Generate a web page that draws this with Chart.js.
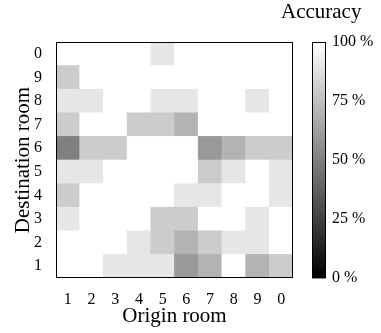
<!DOCTYPE html>
<html>
<head>
<meta charset="utf-8">
<script src="https://cdn.jsdelivr.net/npm/chart.js"></script>
<style>
    body { margin: 0; background: #fff; }
    #wrap { position: relative; width: 381px; height: 333px; }
    canvas { position: absolute; top: 0; }
    #heatmap { left: 0; }
    #colorbar { left: 281px; }
</style>
</head>
<body>
<div id="wrap">
    <canvas id="heatmap" width="300" height="333"></canvas>
    <canvas id="colorbar" width="100" height="333"></canvas>
</div>
<script>
var ORIGIN_ROOMS = ['1', '2', '3', '4', '5', '6', '7', '8', '9', '0'];
// bottom row first
var DESTINATION_ROOMS = ['1', '2', '3', '4', '5', '6', '7', '8', '9', '0'];

// accuracy (%) per destination row, one value per origin room
var ACC_DEST_1 = [100, 100, 90, 90, 90, 60, 70, 100, 70, 80];
var ACC_DEST_2 = [100, 100, 100, 90, 80, 70, 80, 90, 90, 100];
var ACC_DEST_3 = [90, 100, 100, 100, 80, 80, 100, 100, 90, 100];
var ACC_DEST_4 = [80, 100, 100, 100, 100, 90, 90, 100, 100, 90];
var ACC_DEST_5 = [90, 90, 100, 100, 100, 100, 80, 90, 100, 90];
var ACC_DEST_6 = [50, 80, 80, 100, 100, 100, 60, 70, 80, 80];
var ACC_DEST_7 = [80, 100, 100, 80, 80, 70, 100, 100, 100, 100];
var ACC_DEST_8 = [90, 90, 100, 100, 90, 90, 100, 100, 90, 100];
var ACC_DEST_9 = [80, 100, 100, 100, 100, 100, 100, 100, 100, 100];
var ACC_DEST_0 = [100, 100, 100, 100, 90, 100, 100, 100, 100, 100];

var ACCURACY = [ACC_DEST_1, ACC_DEST_2, ACC_DEST_3, ACC_DEST_4, ACC_DEST_5,
    ACC_DEST_6, ACC_DEST_7, ACC_DEST_8, ACC_DEST_9, ACC_DEST_0];

var COLORBAR_MIN = 0,
    COLORBAR_MAX = 100,
    COLORBAR_STEP = 25;

var SERIF = '"Liberation Serif", "Times New Roman", serif';

Chart.defaults.font.family = SERIF;
Chart.defaults.color = '#000';

function gray(pct) {
    var g = Math.round(pct / 100 * 255);
    return 'rgb(' + g + ',' + g + ',' + g + ')';
}

// black box round the plot area
var framePlugin = {
    id: 'frame',
    afterDraw: function (chart) {
        var a = chart.chartArea,
            ctx = chart.ctx,
            x0 = Math.round(a.left) + 0.5,
            y0 = Math.round(a.top) + 0.5,
            x1 = Math.round(a.right) - 0.5,
            y1 = Math.round(a.bottom) - 0.5;
        ctx.save();
        ctx.strokeStyle = '#000';
        ctx.lineWidth = 1;
        ctx.strokeRect(x0, y0, x1 - x0, y1 - y0);
        ctx.restore();
    }
};

var createHeatmap = function () {
    var datasets = DESTINATION_ROOMS.map(function (dest, r) {
        return {
            label: dest,
            data: ORIGIN_ROOMS.map(function () { return [r, r + 1]; }),
            backgroundColor: ACCURACY[r].map(gray),
            borderWidth: 0,
            barPercentage: 1,
            categoryPercentage: 1,
            grouped: false
        };
    });

    return new Chart(document.getElementById('heatmap').getContext('2d'), {
        type: 'bar',
        data: { labels: ORIGIN_ROOMS, datasets: datasets },
        options: {
            responsive: false,
            animation: false,
            devicePixelRatio: 1,
            layout: { padding: { top: 42, right: 7, left: 0, bottom: 0 } },
            plugins: { legend: { display: false }, tooltip: { enabled: false } },
            scales: {
                x: {
                    type: 'category',
                    grid: { display: false },
                    border: { display: false },
                    ticks: { font: { size: 16 }, padding: 4, maxRotation: 0 },
                    title: {
                        display: true,
                        text: 'Origin room',
                        font: { size: 21 },
                        padding: { top: 0, bottom: 4 }
                    },
                    afterFit: function (s) { s.height = 55; }
                },
                y: {
                    type: 'linear',
                    min: 0,
                    max: DESTINATION_ROOMS.length,
                    grid: { display: false },
                    border: { display: false },
                    afterBuildTicks: function (s) {
                        s.ticks = DESTINATION_ROOMS.map(function (d, i) { return { value: i + 0.5 }; });
                    },
                    ticks: {
                        font: { size: 16 },
                        padding: 6,
                        callback: function (v, i) { return DESTINATION_ROOMS[i]; }
                    },
                    title: {
                        display: true,
                        text: 'Destination room',
                        font: { size: 21 },
                        padding: { top: 11, bottom: 0 }
                    },
                    afterFit: function (s) { s.width = 56; }
                }
            }
        },
        plugins: [framePlugin]
    });
};

var createColorbar = function () {
    return new Chart(document.getElementById('colorbar').getContext('2d'), {
        type: 'bar',
        data: {
            labels: ['Accuracy'],
            datasets: [{
                data: [[COLORBAR_MIN, COLORBAR_MAX]],
                backgroundColor: function (ctx) {
                    var area = ctx.chart.chartArea, g;
                    if (!area) {
                        return '#808080';
                    }
                    g = ctx.chart.ctx.createLinearGradient(0, area.bottom, 0, area.top);
                    g.addColorStop(0, '#000');
                    g.addColorStop(1, '#fff');
                    return g;
                },
                borderWidth: 0,
                barPercentage: 1,
                categoryPercentage: 1
            }]
        },
        options: {
            responsive: false,
            animation: false,
            devicePixelRatio: 1,
            layout: { padding: { top: 0, right: 0, left: 0, bottom: 55 } },
            plugins: {
                legend: { display: false },
                tooltip: { enabled: false },
                title: {
                    display: true,
                    text: 'Accuracy',
                    align: 'start',
                    color: '#000',
                    font: { size: 21, weight: 'normal' },
                    padding: { top: 0, bottom: 16.8 }
                }
            },
            scales: {
                x: { display: false },
                pad: {
                    type: 'linear',
                    position: 'left',
                    ticks: { display: false },
                    grid: { display: false },
                    border: { display: false },
                    afterFit: function (s) { s.width = 31; }
                },
                y: {
                    type: 'linear',
                    position: 'right',
                    min: COLORBAR_MIN,
                    max: COLORBAR_MAX,
                    z: 1,
                    grid: { drawTicks: false, color: 'rgba(128,128,128,0.9)' },
                    border: { display: false },
                    ticks: {
                        stepSize: COLORBAR_STEP,
                        font: { size: 16 },
                        padding: 6,
                        callback: function (v) { return v + ' %'; }
                    },
                    afterFit: function (s) { s.width = 55; }
                }
            }
        },
        plugins: [framePlugin]
    });
};

createHeatmap();
createColorbar();
</script>
</body>
</html>
